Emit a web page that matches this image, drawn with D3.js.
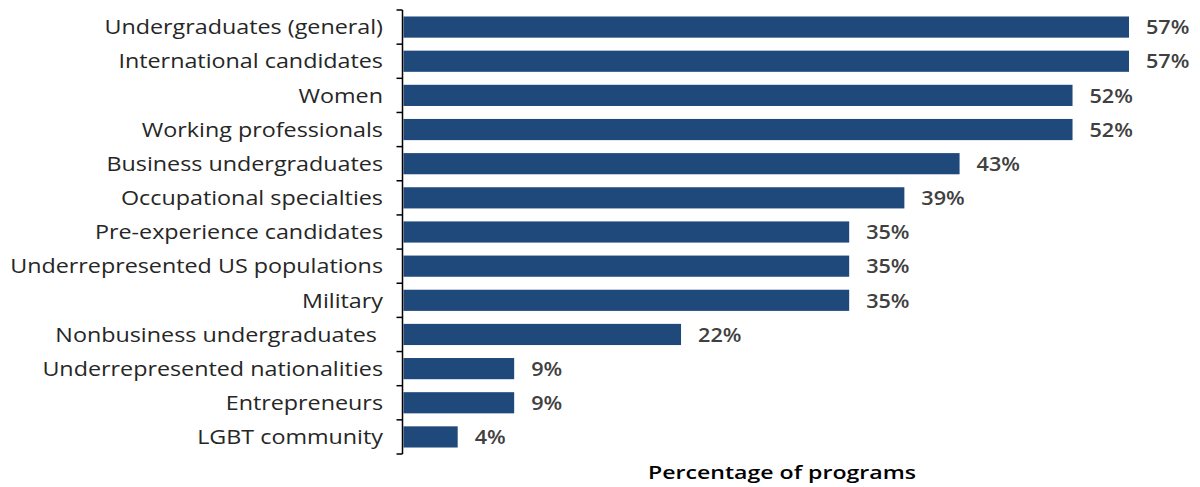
<!DOCTYPE html>
<html><head><meta charset="utf-8">
<script src="https://cdn.jsdelivr.net/npm/d3@7"></script>
<style>body{margin:0;background:#fff}svg{display:block}text{white-space:pre}</style>
</head><body>
<script>
const categories = ["Undergraduates (general)","International candidates","Women","Working professionals","Business undergraduates","Occupational specialties","Pre-experience candidates","Underrepresented US populations","Military","Nonbusiness undergraduates ","Underrepresented nationalities","Entrepreneurs","LGBT community"];
const values = [56.6,56.6,52.2,52.2,43.4,39.1,34.8,34.8,34.8,21.7,8.7,8.7,4.3];
const axisTitle = "Percentage of programs";

const W=1200,H=487;
const svg=d3.select("body").append("svg").attr("width",W).attr("height",H);
const x0=402.5;
const x=d3.scaleLinear().domain([0,56.6]).range([x0,1129]);
const y=d3.scaleBand().domain(categories).range([10,454]).paddingInner(0.38).paddingOuter(0.19);
const font="'Open Sans', sans-serif";

function stretch(sel,k){
  sel.each(function(){
    const w=this.getComputedTextLength();
    d3.select(this).attr("textLength",w*k).attr("lengthAdjust","spacingAndGlyphs");
  });
}

svg.selectAll("rect.bar").data(values).join("rect")
  .attr("x",x0+1).attr("y",(d,i)=>y(categories[i]))
  .attr("width",d=>x(d)-x0-1).attr("height",y.bandwidth())
  .attr("fill","#1f497b");

// axis
const step=y.step();
const g=svg.append("g").attr("stroke","#000").attr("stroke-width",1.5);
g.append("line").attr("x1",x0).attr("x2",x0).attr("y1",10).attr("y2",454);
d3.range(categories.length+1).forEach(i=>{
  const yy=10+i*step;
  g.append("line").attr("x1",x0-6).attr("x2",x0).attr("y1",yy).attr("y2",yy);
});

svg.selectAll("text.cat").data(categories).join("text")
  .attr("x",383).attr("y",d=>y(d)+y.bandwidth()/2).attr("dy","0.36em")
  .attr("text-anchor","end").attr("font-family",font).attr("font-size",20)
  .attr("fill","#262626").text(d=>d).call(stretch,1.165);

svg.selectAll("text.val").data(values).join("text")
  .attr("x",d=>x(d)+17).attr("y",(d,i)=>y(categories[i])+y.bandwidth()/2).attr("dy","0.36em")
  .attr("font-family",font).attr("font-size",20).attr("font-weight",600)
  .attr("fill","#404040").text(d=>Math.round(d)+"%").call(stretch,1.08);

svg.append("text").attr("x",782).attr("y",472).attr("dy","0.36em").attr("text-anchor","middle")
  .attr("font-family",font).attr("font-size",18.5).attr("font-weight",600).attr("fill","#000")
  .text(axisTitle).attr("textLength",268).attr("lengthAdjust","spacingAndGlyphs");
</script>
</body></html>
